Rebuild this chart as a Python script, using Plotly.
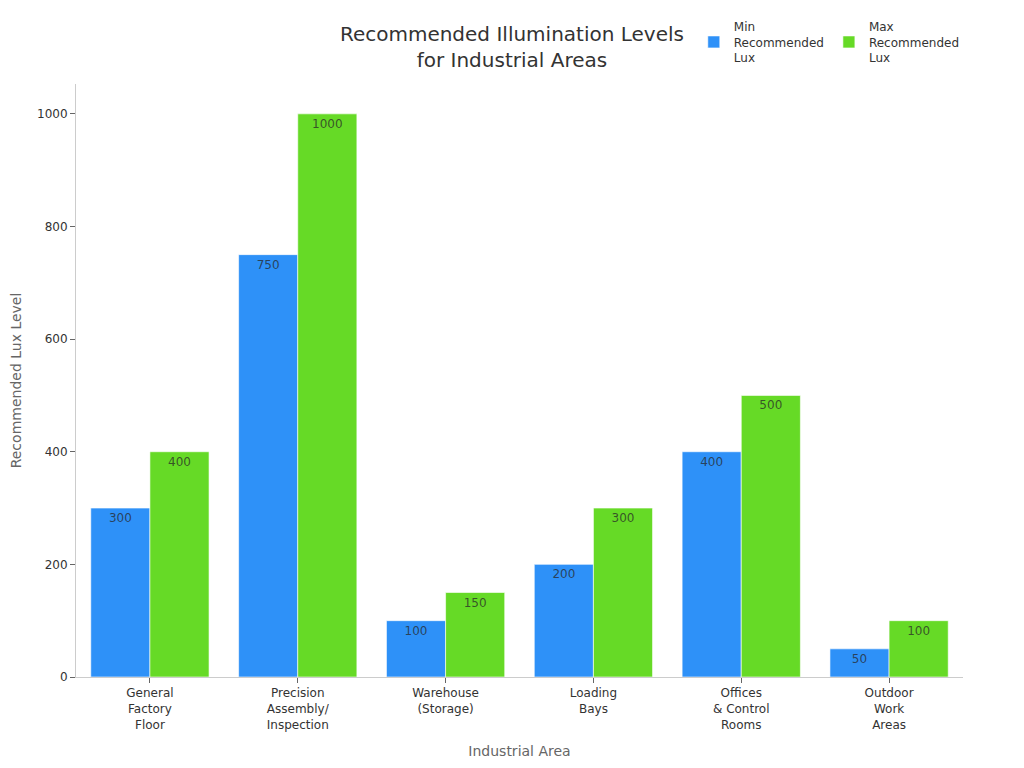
import plotly.graph_objects as go

areas = ["General<br>Factory<br>Floor", "Precision<br>Assembly/<br>Inspection", "Warehouse<br>(Storage)",
         "Loading<br>Bays", "Offices<br>& Control<br>Rooms", "Outdoor<br>Work<br>Areas"]
min_lux = [300, 750, 100, 200, 400, 50]
max_lux = [400, 1000, 150, 300, 500, 100]

fig = go.Figure(data=[
	go.Bar(x=areas, y=min_lux, name="Min<br>Recommended<br>Lux", marker_color="#2E91F8",
		marker_line_color="rgba(255,255,255,0.6)", marker_line_width=1, text=min_lux, textposition="inside",
		insidetextanchor="end", textfont=dict(color="rgba(40,40,40,0.75)", size=12)),
	go.Bar(x=areas, y=max_lux, name="Max<br>Recommended<br>Lux", marker_color="#66DA26",
		marker_line_color="rgba(255,255,255,0.6)", marker_line_width=1, text=max_lux, textposition="inside",
		insidetextanchor="end", textfont=dict(color="rgba(40,40,40,0.75)", size=12)),
	])

# page body adds 8px, so the figure is 8px smaller than the window
fig.update_layout(
	width=1016,
	height=760,
	font=dict(family="DejaVu Sans", size=12, color="#333333"),
	plot_bgcolor="white",
	paper_bgcolor="white",
	barmode="group",
	bargap=0.2,
	bargroupgap=0,
	title=dict(text="Recommended Illumination Levels<br>for Industrial Areas", x=0.496, xanchor="center",
		y=0.956, yanchor="top", font=dict(size=20, color="#333333")),
	legend=dict(orientation="h", x=0.6965, xanchor="left", yref="container", y=0.9947, yanchor="top",
		font=dict(size=12, color="#333333")),
	xaxis=dict(title=dict(text="Industrial Area", font=dict(size=14, color="#666666")),
		showline=True, linecolor="#cccccc", linewidth=1, ticks="outside", tickcolor="#666666",
		ticklen=5, showgrid=False, automargin=False),
	yaxis=dict(title=dict(text="Recommended Lux Level", font=dict(size=14, color="#666666")),
		showline=True, linecolor="#cccccc", linewidth=1, ticks="outside", tickcolor="#666666",
		ticklen=5, showgrid=False, range=[0, 1053], dtick=200, zeroline=False, automargin=False),
	margin=dict(l=68, r=61, t=76, b=91),
	)

fig.write_html("out.html")
